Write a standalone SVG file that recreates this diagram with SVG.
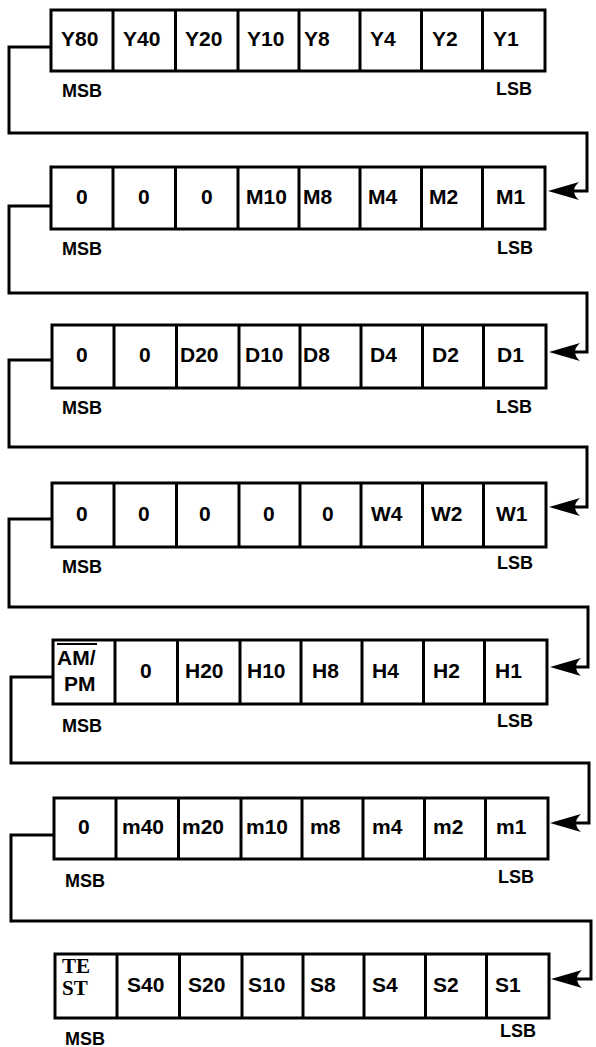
<svg xmlns="http://www.w3.org/2000/svg" width="596" height="1047" viewBox="0 0 596 1047">
<style>
.box{fill:none;stroke:#000;stroke-width:3}
.dv{stroke:#000;stroke-width:3}
.t{font-family:"Liberation Sans",Arial,sans-serif;font-weight:bold;font-size:21px;fill:#000}
.lb{font-family:"Liberation Sans",Arial,sans-serif;font-weight:bold;font-size:18px;fill:#000}
.sf{font-family:"Liberation Serif","Times New Roman",serif;font-weight:bold;font-size:21px;fill:#000}
.cn{fill:none;stroke:#000;stroke-width:3;stroke-linejoin:miter}
</style>
<defs>
<marker id="ah" markerUnits="userSpaceOnUse" markerWidth="34" markerHeight="20" refX="5" refY="10" orient="auto" overflow="visible">
<path d="M0,1 L31,10 L0,19 Q10,10 0,1 Z" fill="#000"/>
</marker>
</defs>
<rect width="596" height="1047" fill="#fff"/>

<g id="connectors">
<path class="cn" d="M51,47 H9 V133 H587 V191 H574" marker-end="url(#ah)"/>
<path class="cn" d="M51,206 H9 V293 H587 V352 H575" marker-end="url(#ah)"/>
<path class="cn" d="M52,360 H9 V447 H587 V507 H575" marker-end="url(#ah)"/>
<path class="cn" d="M52,519 H9 V607 H588 V667 H576" marker-end="url(#ah)"/>
<path class="cn" d="M53,677 H11 V763 H589 V823 H576" marker-end="url(#ah)"/>
<path class="cn" d="M54,835 H11 V921 H591 V979 H577" marker-end="url(#ah)"/>
</g>

<g id="row-year">
<rect class="box" x="51" y="10" width="494" height="61"/>
<path class="dv" d="M113,10V71M175.5,10V71M238,10V71M299,10V71M360,10V71M421.5,10V71M482.5,10V71"/>
<text class="t" x="61" y="46">Y80</text>
<text class="t" x="123" y="46">Y40</text>
<text class="t" x="185" y="46">Y20</text>
<text class="t" x="247" y="46">Y10</text>
<text class="t" x="304" y="46">Y8</text>
<text class="t" x="370" y="46">Y4</text>
<text class="t" x="432" y="46">Y2</text>
<text class="t" x="493" y="46">Y1</text>
<text class="lb" x="62" y="97">MSB</text>
<text class="lb" x="496" y="95">LSB</text>
</g>

<g id="row-month">
<rect class="box" x="51" y="167" width="494" height="62"/>
<path class="dv" d="M113,167V229M175.5,167V229M238,167V229M299,167V229M360,167V229M421.5,167V229M482.5,167V229"/>
<text class="t" x="76" y="204">0</text>
<text class="t" x="138" y="204">0</text>
<text class="t" x="201" y="204">0</text>
<text class="t" x="246" y="204">M10</text>
<text class="t" x="303" y="204">M8</text>
<text class="t" x="368" y="204">M4</text>
<text class="t" x="429" y="204">M2</text>
<text class="t" x="496" y="204">M1</text>
<text class="lb" x="62" y="255">MSB</text>
<text class="lb" x="497" y="254">LSB</text>
</g>

<g id="row-date">
<rect class="box" x="52" y="325" width="494" height="63"/>
<path class="dv" d="M114,325V388M176.5,325V388M239,325V388M300,325V388M361,325V388M422.5,325V388M483.5,325V388"/>
<text class="t" x="76" y="362">0</text>
<text class="t" x="139" y="362">0</text>
<text class="t" x="180" y="362">D20</text>
<text class="t" x="245" y="362">D10</text>
<text class="t" x="303" y="362">D8</text>
<text class="t" x="370" y="362">D4</text>
<text class="t" x="432" y="362">D2</text>
<text class="t" x="497" y="362">D1</text>
<text class="lb" x="62" y="414">MSB</text>
<text class="lb" x="496" y="413">LSB</text>
</g>

<g id="row-week">
<rect class="box" x="52" y="483" width="494" height="64"/>
<path class="dv" d="M114,483V547M176.5,483V547M239,483V547M300,483V547M361,483V547M422.5,483V547M483.5,483V547"/>
<text class="t" x="76" y="521">0</text>
<text class="t" x="138" y="521">0</text>
<text class="t" x="199" y="521">0</text>
<text class="t" x="263" y="521">0</text>
<text class="t" x="322" y="521">0</text>
<text class="t" x="371" y="521">W4</text>
<text class="t" x="431" y="521">W2</text>
<text class="t" x="496" y="521">W1</text>
<text class="lb" x="62" y="573">MSB</text>
<text class="lb" x="497" y="569">LSB</text>
</g>

<g id="row-hour">
<rect class="box" x="53" y="640" width="494" height="64"/>
<path class="dv" d="M115,640V704M177.5,640V704M240,640V704M301,640V704M362,640V704M423.5,640V704M484.5,640V704"/>
<text class="t" x="57" y="665">AM/</text>
<line x1="57" y1="644" x2="97" y2="644" stroke="#000" stroke-width="2"/>
<text class="t" x="64" y="691">PM</text>
<text class="t" x="140" y="678">0</text>
<text class="t" x="185" y="678">H20</text>
<text class="t" x="247" y="678">H10</text>
<text class="t" x="312" y="678">H8</text>
<text class="t" x="372" y="678">H4</text>
<text class="t" x="433" y="678">H2</text>
<text class="t" x="495" y="678">H1</text>
<text class="lb" x="62" y="732">MSB</text>
<text class="lb" x="497" y="727">LSB</text>
</g>

<g id="row-minute">
<rect class="box" x="54" y="798" width="494" height="61"/>
<path class="dv" d="M116,798V859M178.5,798V859M241,798V859M302,798V859M363,798V859M424.5,798V859M485.5,798V859"/>
<text class="t" x="78" y="834">0</text>
<text class="t" x="122" y="834">m40</text>
<text class="t" x="182" y="834">m20</text>
<text class="t" x="246" y="834">m10</text>
<text class="t" x="310" y="834">m8</text>
<text class="t" x="372" y="834">m4</text>
<text class="t" x="433" y="834">m2</text>
<text class="t" x="496" y="834">m1</text>
<text class="lb" x="65" y="887">MSB</text>
<text class="lb" x="498" y="883">LSB</text>
</g>

<g id="row-second">
<rect class="box" x="55" y="954" width="494" height="64"/>
<path class="dv" d="M117,954V1018M179.5,954V1018M242,954V1018M303,954V1018M364,954V1018M425.5,954V1018M486.5,954V1018"/>
<text class="sf" x="62" y="973">TE</text>
<text class="sf" x="62" y="995">ST</text>
<text class="t" x="127" y="992">S40</text>
<text class="t" x="188" y="992">S20</text>
<text class="t" x="248" y="992">S10</text>
<text class="t" x="310" y="992">S8</text>
<text class="t" x="372" y="992">S4</text>
<text class="t" x="433" y="992">S2</text>
<text class="t" x="495" y="992">S1</text>
<text class="lb" x="65" y="1045">MSB</text>
<text class="lb" x="500" y="1037">LSB</text>
</g>
</svg>
